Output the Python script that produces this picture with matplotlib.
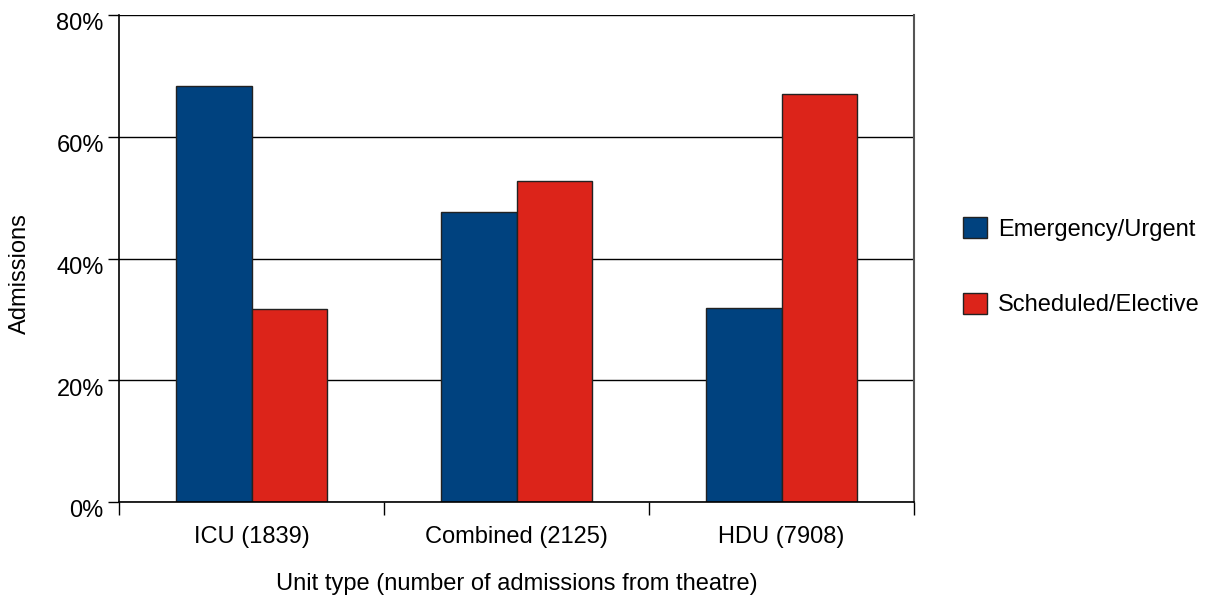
import numpy as np
import matplotlib.pyplot as plt
import matplotlib.transforms as mtransforms
from matplotlib.ticker import FuncFormatter

categories = ["ICU (1839)", "Combined (2125)", "HDU (7908)"]
emergency = [68.3, 47.6, 31.8]
scheduled = [31.7, 52.8, 67.1]
series_names = ["Emergency/Urgent", "Scheduled/Elective"]

plt.rcParams['font.family'] = ['Liberation Sans', 'DejaVu Sans']
FS = 17

fig = plt.figure(figsize=(12.05, 6.06), dpi=100)
ax = fig.add_axes([0.0988, 0.1716, 0.6597, 0.8036])

x = np.arange(len(categories))
w = 0.285
ax.bar(x - w / 2, emergency, w, color="#00427f", edgecolor="#222222", linewidth=1, label=series_names[0], zorder=3)
ax.bar(x + w / 2, scheduled, w, color="#dc241a", edgecolor="#222222", linewidth=1, label=series_names[1], zorder=3)

ax.set_xlim(-0.5, len(categories) - 0.5)
ax.set_ylim(0, 80)

# y axis
ax.set_yticks([0, 20, 40, 60, 80])
ax.yaxis.set_major_formatter(FuncFormatter(lambda v, _: f"{int(v)}%"))
ax.yaxis.grid(True, color="black", linewidth=1, zorder=0)
ax.set_axisbelow(True)
ax.tick_params(axis='y', length=8, width=1, labelsize=FS, pad=3)
# labels sit a little below their gridlines in the original
shift = mtransforms.ScaledTranslation(0, -5 / 72, fig.dpi_scale_trans)
for lab in ax.get_yticklabels():
    lab.set_transform(lab.get_transform() + shift)

# x axis: tick marks at category boundaries, labels at centres
ax.set_xticks(np.arange(len(categories) + 1) - 0.5)
ax.set_xticklabels([])
ax.set_xticks(x, minor=True)
ax.set_xticklabels(categories, minor=True, fontsize=FS)
ax.tick_params(axis='x', which='major', length=9.5, width=1, direction='out')
ax.tick_params(axis='x', which='minor', length=0, pad=17)

for s in ['top', 'bottom']:
    ax.spines[s].set_visible(False)
ax.spines['left'].set_linewidth(1.2)
ax.spines['right'].set_color("#555555")
ax.spines['right'].set_linewidth(1.5)
ax.axhline(0, color="black", linewidth=1.2, zorder=4, clip_on=False)

ax.set_xlabel("Unit type (number of admissions from theatre)", fontsize=FS, labelpad=18)
ax.set_ylabel("Admissions", fontsize=FS, labelpad=18, y=0.469)

ax.legend(loc='center left', bbox_to_anchor=(1.062, 0.483), frameon=False, fontsize=FS,
          handlelength=1.0, handleheight=1.0, labelspacing=2.2, handletextpad=0.47,
          borderaxespad=0, borderpad=0)

fig.savefig("out.png", dpi=100)
